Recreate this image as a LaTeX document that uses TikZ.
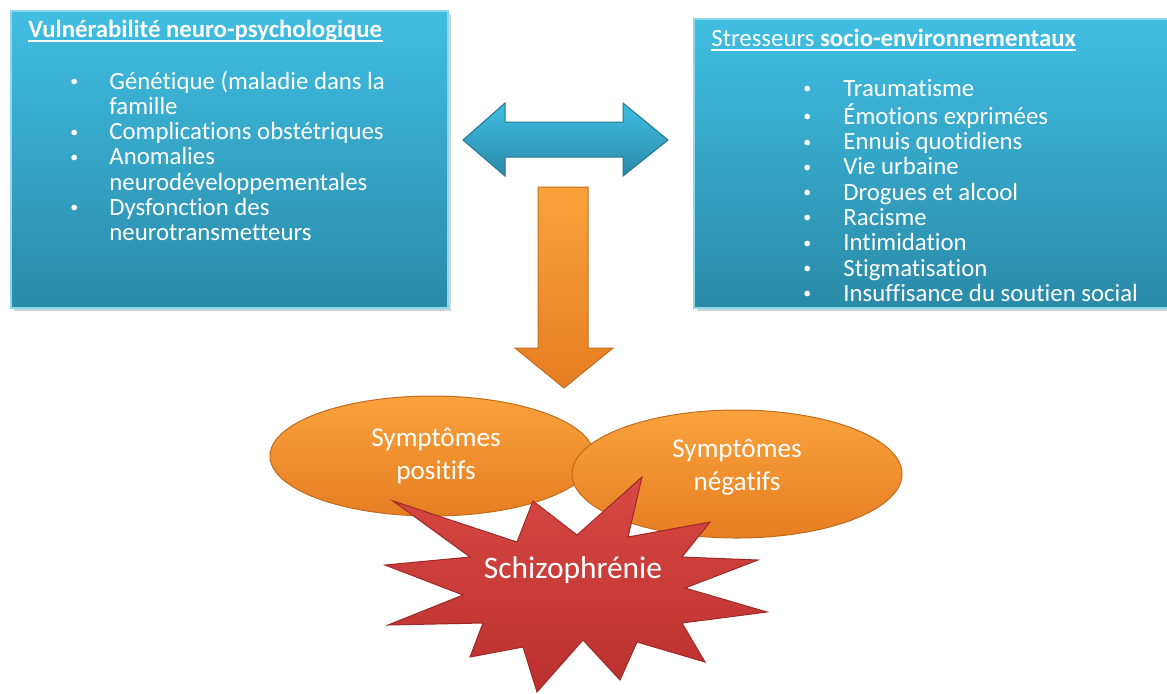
\documentclass[tikz,border=0pt]{standalone}
\usepackage{fontspec}
\setmainfont{Carlito}[Ligatures=NoCommon]
\usetikzlibrary{shapes.geometric,shadows}

\definecolor{bleuhaut}{RGB}{64,190,226}
\definecolor{bleubas}{RGB}{42,138,168}
\definecolor{orhaut}{RGB}{249,162,60}
\definecolor{orbas}{RGB}{230,126,34}
\definecolor{rougehaut}{RGB}{216,72,68}
\definecolor{rougebas}{RGB}{186,48,46}

\newcommand{\corps}{\fontsize{12.4}{12.65}\selectfont}
\newcommand{\puce}{\raisebox{1.3pt}{\fontsize{8}{8}\selectfont\textbullet}}

\begin{document}
\begin{tikzpicture}[x=0.5pt, y=-0.5pt,
    boite/.style={rectangle, draw=bleuhaut!60!white, line width=0.6pt, inner sep=0,
        top color=bleuhaut, bottom color=bleubas,
        drop shadow={opacity=0.35, shadow xshift=1.5pt, shadow yshift=-1.5pt}},
    texte/.style={anchor=base west, inner sep=0, text=white, font=\corps},
    bulle/.style={ellipse, draw=orbas!85!black, line width=0.5pt, inner sep=0,
        top color=orhaut, bottom color=orbas},
    legende/.style={text=white, align=center, inner sep=0, font=\fontsize{13.6}{16.5}\selectfont},
    bloc/.style={draw=#1bas!85!black, line width=0.5pt, top color=#1haut, bottom color=#1bas}]

    \useasboundingbox (0,0) rectangle (1167,693);
    \clip (0,0) rectangle (1167,693);

    \node[boite, minimum width=218.5pt, minimum height=148.5pt] (vuln) at (229.5,159.5) {};
    \node[boite, minimum width=243pt, minimum height=144.5pt] (stress) at (937,163.5) {};

    \node[texte] (tvuln) at (28,37) {\textbf{Vulnérabilité neuro-psychologique}};
    \draw[white, line width=0.6pt] ([yshift=-2pt]tvuln.base west) -- ([yshift=-2pt]tvuln.base east);
    \node[texte] (lvuln) at (70,89) {\begin{tabular}[t]{@{}p{19.5pt}@{}l@{}}
        \puce & Génétique (maladie dans la\\
              & famille\\
        \puce & Complications obstétriques\\
        \puce & Anomalies\\
              & neurodéveloppementales\\
        \puce & Dysfonction des\\
              & neurotransmetteurs
    \end{tabular}};

    \node[texte] (tstress) at (711,46) {Stresseurs \textbf{socio-environnementaux}};
    \draw[white, line width=0.6pt] ([yshift=-2pt]tstress.base west) -- ([yshift=-2pt]tstress.base east);
    \node[texte] (lstress) at (803,96) {\begin{tabular}[t]{@{}p{20pt}@{}l@{}}
        \puce & Traumatisme\\
        \puce & Émotions exprimées\\
        \puce & Ennuis quotidiens\\
        \puce & Vie urbaine\\
        \puce & Drogues et alcool\\
        \puce & Racisme\\
        \puce & Intimidation\\
        \puce & Stigmatisation\\
        \puce & Insuffisance du soutien social
    \end{tabular}};

    \draw[bloc=bleu] (463,140) -- (505,103) -- (505,122) -- (623,122) -- (623,103) -- (668,140)
        -- (623,176) -- (623,157) -- (505,157) -- (505,176) -- cycle;
    \draw[bloc=or] (538,187) -- (588,187) -- (588,348) -- (613,348) -- (564,388)
        -- (515,348) -- (538,348) -- cycle;

    \node[bulle, minimum width=162pt, minimum height=60pt] (pos) at (432,456) {};
    \node[legende] at ([xshift=2pt]pos.center) {Symptômes\\positifs};
    \node[bulle, minimum width=165pt, minimum height=64pt] (neg) at (737,474) {};
    \node[legende] at ([yshift=3.5pt]neg.center) {Symptômes\\négatifs};

    \draw[bloc=rouge] (393,501) -- (517,542) -- (533,501) -- (577,535) -- (642,477) -- (628,537)
        -- (710,522) -- (682,557) -- (758,560) -- (685,588) -- (767,612) -- (682,623)
        -- (705,662) -- (637,642) -- (620,680) -- (583,640) -- (537,692) -- (523,647)
        -- (470,657) -- (483,623) -- (388,625) -- (463,595) -- (385,565) -- (470,557) -- cycle;
    \node[text=white, inner sep=0, font=\fontsize{15.7}{18}\selectfont] (schizo) at (573,570) {Schizophrénie};
\end{tikzpicture}
\end{document}
